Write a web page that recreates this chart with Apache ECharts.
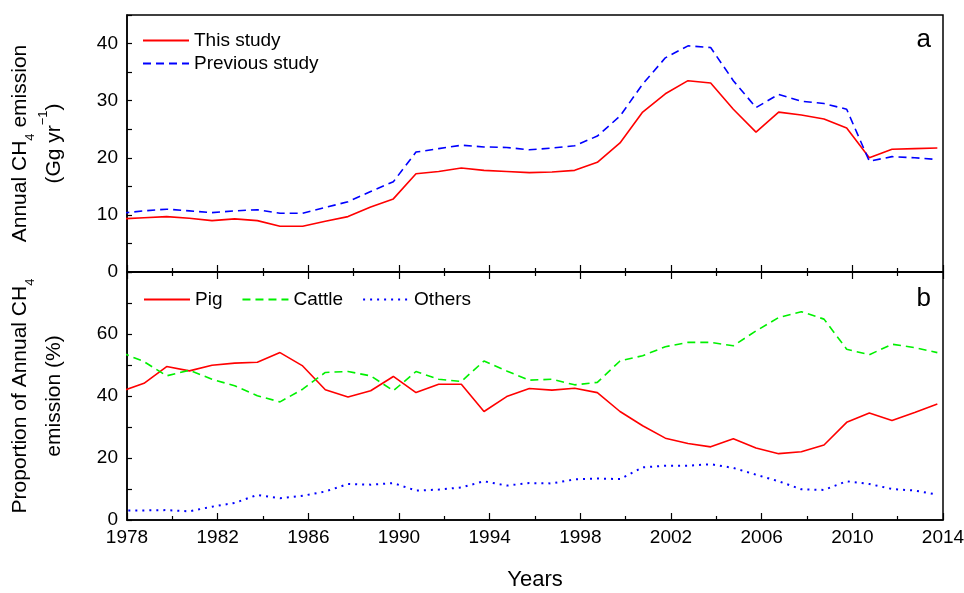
<!DOCTYPE html>
<html>
<head>
<meta charset="utf-8">
<script src="https://cdn.jsdelivr.net/npm/echarts@6/dist/echarts.min.js"></script>
<style>
  html, body { margin: 0; padding: 0; background: #fff; }
  #chart { width: 964px; height: 593px; }
</style>
</head>
<body>
<div id="chart"></div>
<script>
// years 1978-2014
var years = [];
for (var y = 1978; y <= 2014; y++) years.push(y);

// panel a: annual CH4 emission (Gg/yr)
var thisStudy = [9.3, 9.5, 9.7, 9.4, 9.0, 9.3, 9.0, 8.0, 8.0, 8.9,
    9.7, 11.4, 12.8, 17.2, 17.6, 18.2, 17.8, 17.6, 17.4, 17.5,
    17.8, 19.2, 22.6, 28.0, 31.2, 33.5, 33.1, 28.5, 24.5, 28.0,
    27.5, 26.8, 25.2, 20.0, 21.5, 21.6, 21.7];
var previousStudy = [10.3, 10.7, 11.0, 10.7, 10.4, 10.7, 10.9, 10.3, 10.3, 11.3,
    12.3, 14.1, 15.8, 21.0, 21.6, 22.2, 21.9, 21.8, 21.4, 21.7,
    22.1, 23.8, 27.3, 32.9, 37.5, 39.6, 39.3, 33.5, 28.8, 31.1,
    29.9, 29.5, 28.5, 19.4, 20.2, 20.0, 19.7];

// panel b: proportion (%)
var pig = [41.5, 44.1, 49.5, 48.1, 49.9, 50.6, 50.9, 54.0, 49.7, 42.0,
    39.7, 41.7, 46.3, 41.1, 43.8, 43.8, 35.0, 39.8, 42.4, 41.9,
    42.5, 41.1, 35.0, 30.4, 26.4, 24.7, 23.6, 26.2, 23.2, 21.4,
    22.0, 24.2, 31.5, 34.5, 32.1, 34.7, 37.4];
var cattle = [54.0, 51.1, 46.5, 48.3, 45.4, 43.3, 40.1, 38.1, 42.2, 47.6,
    47.9, 46.5, 41.7, 47.9, 45.4, 44.7, 51.3, 48.1, 45.1, 45.4,
    43.6, 44.4, 51.3, 53.0, 55.9, 57.3, 57.3, 56.2, 61.0, 65.3,
    67.2, 64.8, 55.1, 53.3, 56.7, 55.6, 54.0];
var others = [3.0, 3.1, 3.2, 2.8, 4.3, 5.5, 8.1, 7.0, 7.8, 9.2,
    11.6, 11.4, 11.9, 9.5, 9.8, 10.5, 12.5, 11.1, 11.9, 11.8,
    13.1, 13.4, 13.2, 17.0, 17.5, 17.5, 18.0, 16.8, 14.6, 12.5,
    9.9, 9.7, 12.5, 11.6, 10.0, 9.5, 8.2];

// points sit a quarter year left of the year tick in the original
var xShift = -0.25;

function pairs(vals) {
    var out = [];
    for (var i = 0; i < years.length; i++) {
        out.push([years[i] + xShift, vals[i]]);
    }
    return out;
}

var font = 'Liberation Sans, Arial, sans-serif';
var black = '#000';

function xAxisOpt(gridIndex, pos, showLabel) {
    return {
        type: 'value',
        gridIndex: gridIndex,
        position: pos,
        min: 1978,
        max: 2014,
        interval: 4,
        axisLine: {show: true, lineStyle: {color: black, width: 1.5}},
        axisTick: {show: true, inside: true, length: 7, lineStyle: {color: black, width: 1.2}},
        minorTick: {show: true, splitNumber: 2, length: 4, lineStyle: {color: black, width: 1.2}},
        splitLine: {show: false},
        axisLabel: {
            show: showLabel, color: black, fontFamily: font, fontSize: 19, margin: 8,
            formatter: function (v) { return String(v); }
        }
    };
}

// rich styles for the rotated y axis titles
var nameRich = {
    t: {fontFamily: font, fontSize: 21, color: black, lineHeight: 34},
    s: {fontFamily: font, fontSize: 13, color: black, lineHeight: 13, verticalAlign: 'bottom'},
    p: {fontFamily: font, fontSize: 13, color: black, lineHeight: 13, verticalAlign: 'top'}
};

var myChart = echarts.init(document.getElementById('chart'), null, {renderer: 'canvas'});
var option = {
    animation: false,
    textStyle: {fontFamily: font, color: black},
    grid: [
        {left: 127, right: 21, top: 15, height: 257, outerBoundsMode: 'none',
            show: true, borderColor: black, borderWidth: 1.5},
        {left: 127, right: 21, top: 272, height: 248, outerBoundsMode: 'none',
            show: true, borderColor: black, borderWidth: 1.5}
    ],
    legend: [
        {
            data: ['This study', 'Previous study'],
            orient: 'vertical',
            left: 137, top: 26,
            itemWidth: 46, itemHeight: 14, itemGap: 4,
            itemStyle: {opacity: 0},
            textStyle: {fontFamily: font, fontSize: 19, color: black}
        },
        {
            data: ['Pig', 'Cattle', 'Others'],
            orient: 'horizontal',
            left: 138, top: 285,
            itemWidth: 46, itemHeight: 14, itemGap: 19,
            itemStyle: {opacity: 0},
            textStyle: {fontFamily: font, fontSize: 19, color: black}
        }
    ],
    xAxis: [
        xAxisOpt(0, 'bottom', false),
        Object.assign(xAxisOpt(1, 'bottom', true), {
            name: 'Years',
            nameLocation: 'middle',
            nameGap: 49,
            nameTextStyle: {fontFamily: font, fontSize: 22, color: black}
        }),
        xAxisOpt(1, 'top', false)
    ],
    yAxis: [
        {
            type: 'value',
            gridIndex: 0,
            min: 0, max: 45, interval: 5,
            axisLine: {show: true, lineStyle: {color: black, width: 1.5}},
            axisTick: {show: true, inside: true, length: 5, lineStyle: {color: black, width: 1.2}},
            splitLine: {show: false},
            axisLabel: {
                color: black, fontFamily: font, fontSize: 19, margin: 9,
                formatter: function (v) { return (v % 10 === 0) ? String(v) : ''; }
            },
            name: '{t|Annual CH}{s|4}{t| emission}\n{t|(Gg yr}{p|\u22121}{t|)}',
            nameLocation: 'middle',
            nameRotate: 90,
            nameGap: 56,
            nameTextStyle: {rich: nameRich}
        },
        {
            type: 'value',
            gridIndex: 1,
            min: 0, max: 80, interval: 10,
            axisLine: {show: true, lineStyle: {color: black, width: 1.5}},
            axisTick: {show: true, inside: true, length: 5, lineStyle: {color: black, width: 1.2}},
            splitLine: {show: false},
            axisLabel: {
                color: black, fontFamily: font, fontSize: 19, margin: 9,
                formatter: function (v) { return (v % 20 === 0 && v !== 80) ? String(v) : ''; }
            },
            name: '{t|Proportion of Annual CH}{s|4}\n{t|emission (%)}',
            nameLocation: 'middle',
            nameRotate: 90,
            nameGap: 56,
            nameTextStyle: {rich: nameRich}
        }
    ],
    graphic: [
        {type: 'text', right: 33, top: 27, style: {text: 'a', font: '26px ' + font, fill: black}},
        {type: 'text', right: 33, top: 286, style: {text: 'b', font: '26px ' + font, fill: black}}
    ],
    series: [
        {
            name: 'This study', type: 'line', xAxisIndex: 0, yAxisIndex: 0,
            data: pairs(thisStudy), symbol: 'none', color: '#ff0000',
            lineStyle: {color: '#ff0000', width: 1.6}
        },
        {
            name: 'Previous study', type: 'line', xAxisIndex: 0, yAxisIndex: 0,
            data: pairs(previousStudy), symbol: 'none', color: '#0000ff',
            lineStyle: {color: '#0000ff', width: 1.6, type: [8, 5]}
        },
        {
            name: 'Pig', type: 'line', xAxisIndex: 1, yAxisIndex: 1,
            data: pairs(pig), symbol: 'none', color: '#ff0000',
            lineStyle: {color: '#ff0000', width: 1.6}
        },
        {
            name: 'Cattle', type: 'line', xAxisIndex: 1, yAxisIndex: 1,
            data: pairs(cattle), symbol: 'none', color: '#00f000',
            lineStyle: {color: '#00f000', width: 1.6, type: [8, 5]}
        },
        {
            name: 'Others', type: 'line', xAxisIndex: 1, yAxisIndex: 1,
            data: pairs(others), symbol: 'none', color: '#0000ff',
            lineStyle: {color: '#0000ff', width: 2, type: [2, 5]}
        }
    ]
};
myChart.setOption(option);
</script>
</body>
</html>
